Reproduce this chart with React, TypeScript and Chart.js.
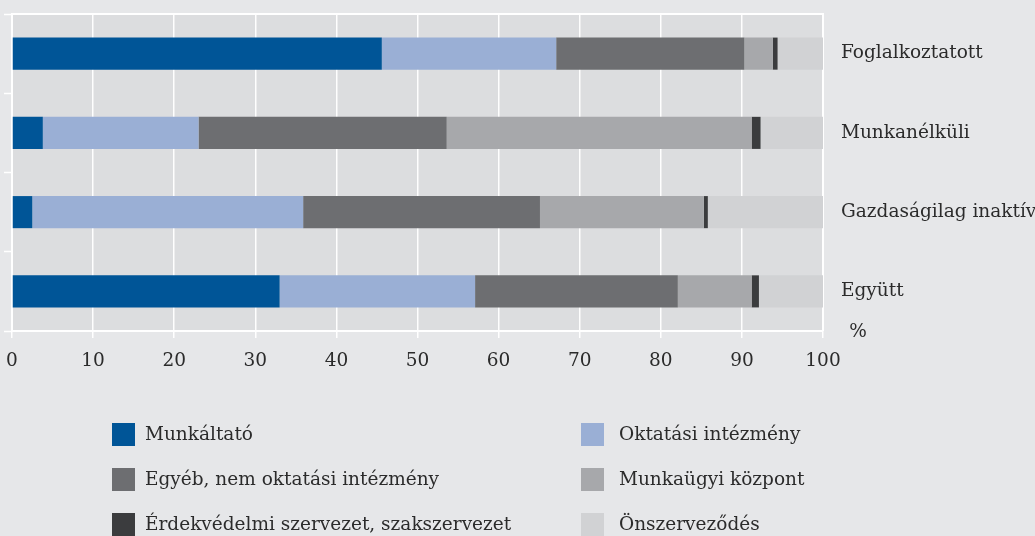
import React, { useEffect, useRef } from "react";
import { Chart, registerables } from "chart.js";

Chart.register(...registerables);

const categories = ["Foglalkoztatott", "Munkanélküli", "Gazdaságilag inaktív", "Együtt"];
const seriesNames = [
  "Munkáltató",
  "Oktatási intézmény",
  "Egyéb, nem oktatási intézmény",
  "Munkaügyi központ",
  "Érdekvédelmi szervezet, szakszervezet",
  "Önszerveződés",
];
const munkaltato = [45.6, 3.8, 2.5, 33.0];
const oktatasi = [21.5, 19.2, 33.4, 24.1];
const egyeb = [23.2, 30.6, 29.2, 25.0];
const munkaugyi = [3.5, 37.6, 20.2, 9.1];
const erdekvedelmi = [0.6, 1.1, 0.5, 0.9];
const onszervezodes = [5.6, 7.7, 14.2, 7.9];
const seriesColors = ["#005597", "#9aafd5", "#6d6e71", "#a7a8ab", "#3b3c3e", "#d1d2d4"];
const xTicks = [0, 10, 20, 30, 40, 50, 60, 70, 80, 90, 100];
const unitLabel = "%";

const FONT = "'DejaVu Serif', Georgia, serif";
const TEXT = "#2b2b2b";

const bgPlugin = {
  id: "bgPlugin",
  beforeDraw(chart: any) {
    const { ctx, chartArea } = chart;
    ctx.save();
    ctx.fillStyle = "#e6e7e9";
    ctx.fillRect(0, 0, chart.width, chart.height);
    ctx.fillStyle = "#dcdddf";
    ctx.fillRect(chartArea.left, chartArea.top, chartArea.right - chartArea.left, chartArea.bottom - chartArea.top);
    ctx.restore();
  },
  beforeDatasetsDraw(chart: any) {
    const { ctx, chartArea } = chart;
    ctx.save();
    ctx.strokeStyle = "#ffffff";
    ctx.lineWidth = 2;
    ctx.beginPath();
    ctx.moveTo(chartArea.left, chartArea.top);
    ctx.lineTo(chartArea.right, chartArea.top);
    ctx.lineTo(chartArea.right, chartArea.bottom);
    ctx.stroke();
    ctx.restore();
  },
  afterDraw(chart: any) {
    const { ctx, chartArea } = chart;
    ctx.save();
    ctx.fillStyle = TEXT;
    ctx.font = `18.5px ${FONT}`;
    ctx.textBaseline = "middle";
    ctx.textAlign = "center";
    ctx.fillText(unitLabel, chartArea.right + 35, chartArea.bottom + 1);
    // legend
    const colBox = [112, 581];
    const colText = [145, 619];
    const rowTop = [423, 468, 513];
    const box = 23;
    ctx.textAlign = "left";
    chart.data.datasets.forEach((ds: any, i: number) => {
      const col = i % 2;
      const row = Math.floor(i / 2);
      ctx.fillStyle = ds.backgroundColor;
      ctx.fillRect(colBox[col], rowTop[row], box, box);
      ctx.fillStyle = TEXT;
      ctx.fillText(ds.label, colText[col], rowTop[row] + box / 2 + 1);
    });
    ctx.restore();
  },
};

export default function App() {
  const ref = useRef<HTMLCanvasElement | null>(null);
  useEffect(() => {
    if (!ref.current) return;
    const values = [munkaltato, oktatasi, egyeb, munkaugyi, erdekvedelmi, onszervezodes];
    const chart = new Chart(ref.current, {
      type: "bar",
      data: {
        labels: categories,
        datasets: values.map((v, i) => ({
          label: seriesNames[i],
          data: v,
          backgroundColor: seriesColors[i],
          borderWidth: 0,
          barPercentage: 0.405,
          categoryPercentage: 1,
          yAxisID: "y",
        })),
      },
      options: {
        indexAxis: "y",
        animation: false,
        responsive: false,
        devicePixelRatio: 1,
        layout: { padding: { top: 14, left: 0, right: 0, bottom: 0 } },
        plugins: { legend: { display: false }, tooltip: { enabled: false } },
        scales: {
          x: {
            stacked: true,
            min: 0,
            max: 100,
            afterBuildTicks: (s: any) => {
              s.ticks = xTicks.map((v) => ({ value: v }));
            },
            afterFit: (s: any) => {
              s.height = 205;
              s.paddingLeft = 0;
              s.paddingRight = 0;
              s.paddingTop = 0;
              s.paddingBottom = 0;
            },
            ticks: { color: TEXT, font: { family: FONT, size: 18.5 }, padding: 12, maxRotation: 0 },
            grid: { color: "rgba(255,255,255,0.95)", lineWidth: 1.5, drawTicks: true, tickLength: 7, tickColor: "#ffffff" },
            border: { display: true, color: "#ffffff", width: 2 },
          },
          y: {
            type: "category",
            stacked: true,
            position: "left",
            offset: true,
            afterFit: (s: any) => {
              s.width = 12;
              s.paddingLeft = 0;
              s.paddingRight = 0;
              s.paddingTop = 0;
              s.paddingBottom = 0;
            },
            ticks: { display: false },
            grid: { display: true, drawOnChartArea: false, drawTicks: true, tickLength: 8, tickColor: "#ffffff", tickWidth: 1.5, offset: true },
            border: { display: true, color: "#ffffff", width: 2 },
          },
          y2: {
            type: "category",
            position: "right",
            labels: categories,
            offset: true,
            afterFit: (s: any) => {
              s.width = 212;
              s.paddingLeft = 0;
              s.paddingRight = 0;
              s.paddingTop = 0;
              s.paddingBottom = 0;
            },
            ticks: { color: TEXT, font: { family: FONT, size: 18.5 }, padding: 18 },
            grid: { display: false, drawTicks: false },
            border: { display: false },
          },
        },
      } as any,
      plugins: [bgPlugin],
    });
    return () => chart.destroy();
  }, []);
  return (
    <div style={{ position: "absolute", left: 0, top: 0, width: 1035, height: 536, background: "#e6e7e9" }}>
      <canvas ref={ref} width={1035} height={536} style={{ display: "block" }} />
    </div>
  );
}
